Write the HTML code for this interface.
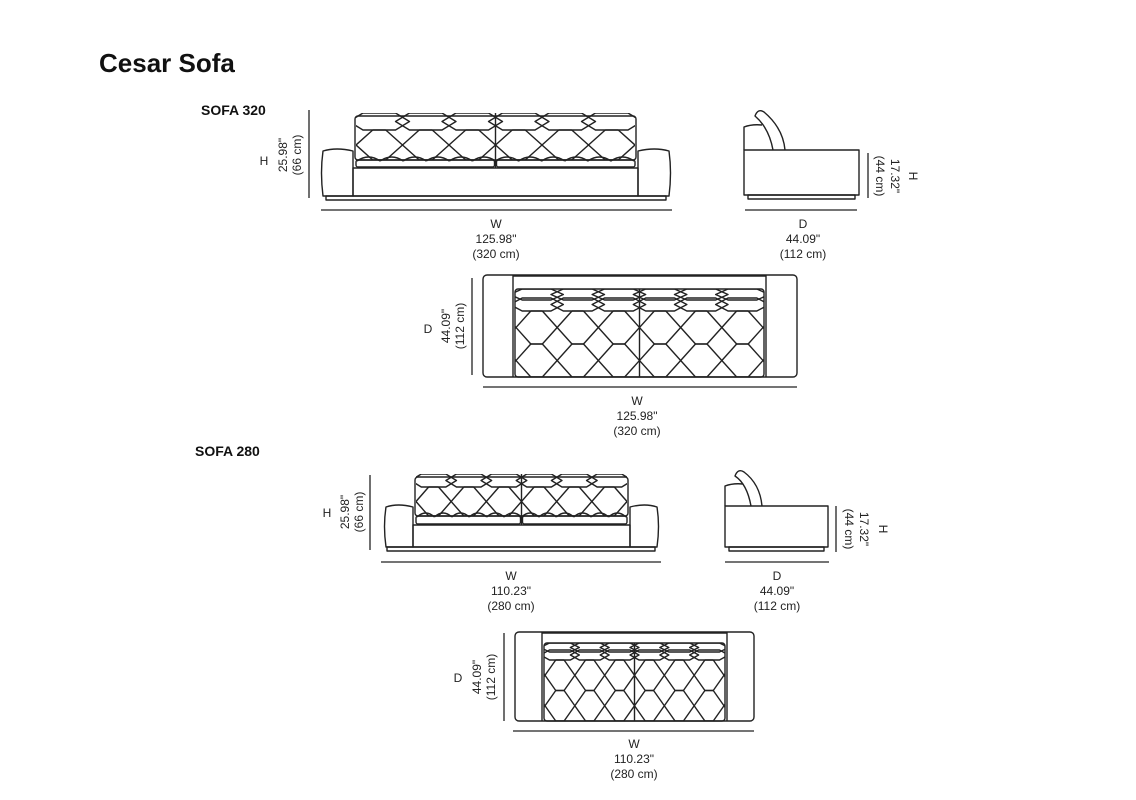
<!DOCTYPE html>
<html><head><meta charset="utf-8">
<style>
html,body{margin:0;padding:0;background:#fff;}
body{width:1136px;height:800px;overflow:hidden;position:relative;}
svg{position:absolute;left:0;top:0;}
text{font-family:"Liberation Sans",sans-serif;fill:#222;}
.t{font-size:12px;}
</style></head><body>
<svg id="s" width="1136" height="800" viewBox="0 0 1136 800" xmlns="http://www.w3.org/2000/svg">
<text x="99" y="72" style="font-size:26px;font-weight:bold;fill:#111">Cesar Sofa</text>
<text x="201" y="115" style="font-size:14px;font-weight:bold;fill:#111">SOFA 320</text>
<text x="195" y="456" style="font-size:14px;font-weight:bold;fill:#111">SOFA 280</text>

<g stroke="#222" stroke-width="1.3">
<line x1="321" y1="210" x2="672" y2="210"/><line x1="309" y1="110" x2="309" y2="198"/>
<line x1="745" y1="210" x2="857" y2="210"/><line x1="868" y1="153" x2="868" y2="198"/>
<line x1="483" y1="387" x2="797" y2="387"/><line x1="472" y1="278" x2="472" y2="375"/>
<line x1="381" y1="562" x2="661" y2="562"/><line x1="370" y1="475" x2="370" y2="550"/>
<line x1="725" y1="562" x2="829" y2="562"/><line x1="836" y1="506" x2="836" y2="552"/>
<line x1="513" y1="731" x2="754" y2="731"/><line x1="504" y1="633" x2="504" y2="721"/>
</g>

<g class="t" text-anchor="middle">
<text x="496" y="228">W</text><text x="496" y="243">125.98"</text><text x="496" y="258">(320 cm)</text>
<text x="803" y="228">D</text><text x="803" y="243">44.09"</text><text x="803" y="258">(112 cm)</text>
<text x="637" y="405">W</text><text x="637" y="420">125.98"</text><text x="637" y="435">(320 cm)</text>
<text x="511" y="580">W</text><text x="511" y="595">110.23"</text><text x="511" y="610">(280 cm)</text>
<text x="777" y="580">D</text><text x="777" y="595">44.09"</text><text x="777" y="610">(112 cm)</text>
<text x="634" y="748">W</text><text x="634" y="763">110.23"</text><text x="634" y="778">(280 cm)</text>
<text x="264" y="165">H</text>
<text transform="translate(287,155) rotate(-90)">25.98"</text>
<text transform="translate(301,155) rotate(-90)">(66 cm)</text>
<text x="428" y="333">D</text>
<text transform="translate(450,326) rotate(-90)">44.09"</text>
<text transform="translate(464,326) rotate(-90)">(112 cm)</text>
<text x="327" y="517">H</text>
<text transform="translate(349,512) rotate(-90)">25.98"</text>
<text transform="translate(363,512) rotate(-90)">(66 cm)</text>
<text x="458" y="682">D</text>
<text transform="translate(481,677) rotate(-90)">44.09"</text>
<text transform="translate(495,677) rotate(-90)">(112 cm)</text>
<text transform="translate(876,176) rotate(90)">(44 cm)</text>
<text transform="translate(891,176) rotate(90)">17.32"</text>
<text transform="translate(909,176) rotate(90)">H</text>
<text transform="translate(845,529) rotate(90)">(44 cm)</text>
<text transform="translate(860,529) rotate(90)">17.32"</text>
<text transform="translate(879,529) rotate(90)">H</text>
</g>
<g id="draw" fill="none" stroke="#222" stroke-width="1.4" stroke-linejoin="round"></g>
</svg>
<script>
var g=document.getElementById('draw'),NS='http://www.w3.org/2000/svg',cid=0;
function el(n,a,p){var e=document.createElementNS(NS,n);for(var k in a)e.setAttribute(k,a[k]);(p||g).appendChild(e);return e;}
function rect(x,y,w,h,rx,p){return el('rect',{x:x,y:y,width:w,height:h,rx:rx||0},p);}
function line(a,b,c,d,p){el('line',{x1:a,y1:b,x2:c,y2:d},p);}
function clip(x,y,w,h){var id='c'+(cid++);var cp=el('clipPath',{id:id});rect(x,y,w,h,0,cp);return el('g',{'clip-path':'url(#'+id+')'});}
function band(p,x0,x1,n,y0,y1){var w=(x1-x0)/n;for(var i=0;i<n;i++){var l=x0+i*w,m=(y0+y1)/2;
 el('path',{d:'M'+(l-0.15*w)+','+m+' L'+(l+0.15*w)+','+y0+' L'+(l+0.85*w)+','+y0+' L'+(l+1.15*w)+','+m+' L'+(l+0.85*w)+','+y1+' L'+(l+0.15*w)+','+y1+'Z'},p);}}
function xgrid(p,x0,x1,n,y0,y1,rows){var w=(x1-x0)/n,h=(y1-y0)/rows,s=0.36;
 for(var r=0;r<rows;r++){var a=y0+r*h,b=a+h;
  for(var i=0;i<=n;i++){var bx=x0+i*w;line(bx-s*w,a,bx+s*w,b,p);line(bx+s*w,a,bx-s*w,b,p);}
  for(var i=0;i<n;i++){var l=x0+i*w;line(l+s*w,a,l+(1-s)*w,a,p);line(l+s*w,b,l+(1-s)*w,b,p);}}}
function scallop(p,x0,x1,n,y0,y1){var w=(x1-x0)/n,d='';for(var i=0;i<n;i++){var l=x0+i*w;d+='M'+l+','+y1+' Q'+(l+w/2)+','+(y0-(y1-y0)*0.6)+' '+(l+w)+','+y1+' ';}el('path',{d:d},p);}
function front(o){
 rect(o.px0,o.base1,o.px1-o.px0,4);
 el('path',{d:'M'+o.bx0+','+o.base1+' L'+(o.ax0+3)+','+o.base1+' Q'+o.ax0+','+((o.at+o.base1)/2)+' '+(o.ax0+3)+','+(o.at+2)+' Q'+((o.ax0+o.bx0)/2)+','+(o.at-2)+' '+o.bx0+','+(o.at+2)+'Z'});
 el('path',{d:'M'+o.bx1+','+o.base1+' L'+(o.ax1-3)+','+o.base1+' Q'+o.ax1+','+((o.at+o.base1)/2)+' '+(o.ax1-3)+','+(o.at+2)+' Q'+((o.ax1+o.bx1)/2)+','+(o.at-2)+' '+o.bx1+','+(o.at+2)+'Z'});
 rect(o.bx0,o.seat1,o.bx1-o.bx0,o.base1-o.seat1);
 rect(o.bx0+2,o.top+3,o.bx1-o.bx0-4,o.seat0-o.top-3,3);
 var p=clip(o.bx0+3,o.top,o.bx1-o.bx0-6,o.seat0-o.top);
 band(p,o.bx0+3,o.bx1-3,6,o.top,o.band);
 xgrid(p,o.bx0+3,o.bx1-3,6,o.band,o.seat0,1);
 line((o.bx0+o.bx1)/2,o.top,(o.bx0+o.bx1)/2,o.seat1);
 rect(o.bx0+3,o.seat0,(o.bx1-o.bx0)/2-4,o.seat1-o.seat0-1,2);
 rect((o.bx0+o.bx1)/2+1,o.seat0,(o.bx1-o.bx0)/2-4,o.seat1-o.seat0-1,2);
 scallop(g,o.bx0+4,o.bx1-4,12,o.seat0-4,o.seat0+1);
}
function side(o){
 rect(o.x0+4,o.b1,o.x1-o.x0-8,4);
 rect(o.x0,o.b0,o.x1-o.x0,o.b1-o.b0);
 el('path',{d:'M'+o.x0+','+o.b0+' L'+o.x0+','+(o.bt+2)+' Q'+(o.x0+8)+','+(o.bt-1)+' '+(o.x0+18)+','+o.bt});
 el('path',{d:'M'+o.c0+','+o.b0+' Q'+(o.c0-4)+','+(o.b0-22)+' '+(o.cx-6)+','+(o.ct+6)+' Q'+(o.cx-3)+','+(o.ct-2)+' '+(o.cx+3)+','+(o.ct+2)+' Q'+(o.c1-2)+','+(o.b0-22)+' '+o.c1+','+o.b0});
}
function plan(o){
 rect(o.x0,o.y0,o.x1-o.x0,o.y1-o.y0,4);
 line(o.a0,o.y0,o.a0,o.y1);line(o.a1,o.y0,o.a1,o.y1);
 line(o.a0,o.y0+1,o.a1,o.y0+1);
 var p=clip(o.a0+2,o.c0,o.a1-o.a0-4,o.y1-o.c0);
 rect(o.a0+2,o.c0,o.a1-o.a0-4,o.y1-o.c0,3);
 band(p,o.a0+3,o.a1-3,6,o.c0,o.c1);
 band(p,o.a0+3,o.a1-3,6,o.c1-2,o.h0);
 xgrid(p,o.a0+3,o.a1-3,6,o.h0,o.y1,2);
 line((o.a0+o.a1)/2,o.c0,(o.a0+o.a1)/2,o.y1);
}
front({px0:326,px1:666,base1:196,ax0:320,ax1:672,bx0:353,bx1:638,at:149,seat1:168,seat0:160,top:113,band:130});
side({x0:744,x1:859,b0:150,b1:195,bt:125,c0:773,c1:785,cx:761,ct:110});
plan({x0:483,x1:797,y0:275,y1:377,a0:513,a1:766,c0:289,c1:300,h0:311});
front({px0:387,px1:655,base1:547,ax0:383,ax1:660,bx0:413,bx1:630,at:505,seat1:525,seat0:516,top:474,band:487});
side({x0:725,x1:828,b0:506,b1:547,bt:484,c0:751,c1:762,cx:741,ct:470});
plan({x0:515,x1:754,y0:632,y1:721,a0:542,a1:727,c0:643,c1:652,h0:660});
</script>
</body></html>
